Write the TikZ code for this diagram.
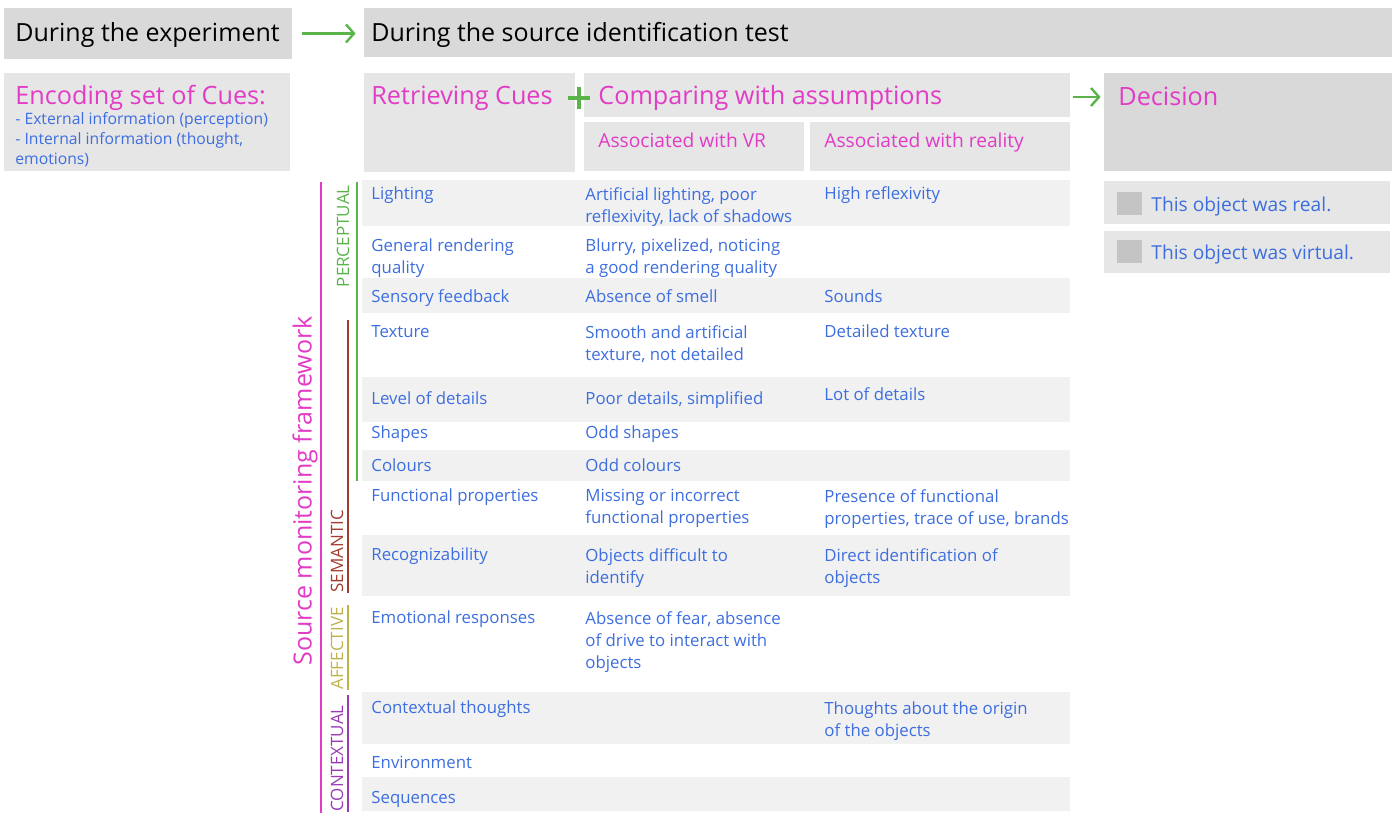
\documentclass[tikz,border=0pt]{standalone}
\usepackage{fontspec}
\setmainfont{Open Sans}
\usetikzlibrary{arrows.meta,positioning,calc,fit}

\definecolor{boxdark}{HTML}{D9D9D9}
\definecolor{boxlight}{HTML}{E6E6E6}
\definecolor{rowgrey}{HTML}{F1F1F1}
\definecolor{tickgrey}{HTML}{C4C4C4}
\definecolor{cuemagenta}{HTML}{E23BC6}
\definecolor{cueblue}{HTML}{3D6EE0}
\definecolor{flowgreen}{HTML}{5AB44A}
\definecolor{semred}{HTML}{A33A2C}
\definecolor{affolive}{HTML}{BDB24A}
\definecolor{ctxpurple}{HTML}{9A3BB3}

\tikzset{
    panel/.style={inner sep=0pt, fill=boxlight},
    head/.style={font=\fontsize{12.5}{14}\selectfont, anchor=base west, inner sep=0pt},
    title/.style={font=\fontsize{12.6}{14}\selectfont, text=cuemagenta, anchor=base west, inner sep=0pt},
    subtitle/.style={font=\fontsize{9.6}{11}\selectfont, text=cuemagenta, anchor=base west, inner sep=0pt},
    % cells hang from the top of their first line
    cell/.style={font=\fontsize{8.4}{11}\selectfont, text=cueblue, anchor=north west,
        inner sep=0pt, align=left, execute at begin node=\strut},
    wrap/.style={cell, yshift=-1.5pt},
    option/.style={font=\fontsize{9.6}{11}\selectfont, text=cueblue, anchor=base west, inner sep=0pt},
    group/.style={font=\fontsize{8.5}{9}\selectfont, rotate=90, inner sep=0pt},
    flow/.style={-{Straight Barb[length=4pt,width=9pt]}, flowgreen, line width=1.2pt},
}

\begin{document}
\begin{tikzpicture}[x=0.5pt, y=-0.5pt]
    \useasboundingbox (0,0) rectangle (1400,822);

    % Panels
    \node[panel, fill=boxdark, fit={(4,8) (292,59)}] (exp) {};
    \node[panel, fill=boxdark, fit={(364,8) (1392,57)}] (test) {};
    \node[panel, fit={(4,73) (290,171)}] (encode) {};
    \node[panel, fit={(364,73) (575,172)}] (retrieve) {};
    \node[panel, fit={(584,73) (1070,117)}] (compare) {};
    \node[panel, fit={(584,122) (804,171)}] (vr) {};
    \node[panel, fit={(810,122) (1070,171)}] (reality) {};
    \node[panel, fill=boxdark, fit={(1104,73) (1392,171)}] (decision) {};
    \node[panel, fit={(1104,181) (1390,224)}] (real) {};
    \node[panel, fit={(1104,231) (1390,273)}] (virtual) {};

    % Titles
    \node[head] (exp-t) at (15,42) {During the experiment};
    \node[head] (test-t) at (371,42) {During the source identification test};
    \node[title] (encode-t) at (15,105) {Encoding set of Cues:};
    \node[wrap, font=\fontsize{7.85}{10}\selectfont] (encode-l) at (15,109)
        {- External information (perception)\\- Internal information (thought,\\emotions)};
    \node[title] (retrieve-t) at (371,105) {Retrieving Cues};
    \node[title] (compare-t) at (598,105) {Comparing with assumptions};
    \node[subtitle] (vr-t) at (598,148) {Associated with VR};
    \node[subtitle] (reality-t) at (824,148) {Associated with reality};
    \node[title] (decision-t) at (1118,106) {Decision};

    % Decision options
    \fill[tickgrey] (1117,192) rectangle (1142,215);
    \fill[tickgrey] (1117,240) rectangle (1142,263);
    \node[option] (real-t) at (1151,212) {This object was real.};
    \node[option] (virtual-t) at (1151,260) {This object was virtual.};

    % Flow
    \draw[flow, shorten <=5pt, shorten >=4pt] (exp.east) -- (exp.east -| test.west);
    \draw[flow, shorten <=1.5pt, shorten >=1.5pt] (compare.east) ++(0,2) -- (decision.west |- 0,97);
    \coordinate (plus) at (579,98);
    \draw[flowgreen, line width=2pt] ($(plus)+(-11,0)$) -- ($(plus)+(11,0)$)
        ($(plus)+(0,-11)$) -- ($(plus)+(0,11)$);

    % Row stripes
    \foreach \ya/\yb in {180/226, 278/313, 377/422, 450/481, 535/596, 692/744, 777/811}
        \fill[rowgrey] (362,\ya) rectangle (1070,\yb);

    % Cues
    \node[cell] (light) at (371,184) {Lighting};
    \node[wrap] (light-vr) at (585,184) {Artificial lighting, poor\\reflexivity, lack of shadows};
    \node[cell] (light-re) at (824,184) {High reflexivity};

    \node[wrap] (render) at (371,235) {General rendering\\quality};
    \node[wrap] (render-vr) at (585,235) {Blurry, pixelized, noticing\\a good rendering quality};

    \node[cell] (sense) at (371,287) {Sensory feedback};
    \node[cell] (sense-vr) at (585,287) {Absence of smell};
    \node[cell] (sense-re) at (824,287) {Sounds};

    \node[cell] (texture) at (371,322) {Texture};
    \node[wrap] (texture-vr) at (585,322) {Smooth and artificial\\texture, not detailed};
    \node[cell] (texture-re) at (824,322) {Detailed texture};

    \node[cell] (detail) at (371,389) {Level of details};
    \node[cell] (detail-vr) at (585,389) {Poor details, simplified};
    \node[cell] (detail-re) at (824,385) {Lot of details};

    \node[cell] (shape) at (371,423) {Shapes};
    \node[cell] (shape-vr) at (585,423) {Odd shapes};

    \node[cell] (colour) at (371,456) {Colours};
    \node[cell] (colour-vr) at (585,456) {Odd colours};

    \node[cell] (func) at (371,486) {Functional properties};
    \node[wrap] (func-vr) at (585,486) {Missing or incorrect\\functional properties};
    \node[wrap] (func-re) at (824,486) {Presence of functional\\properties, trace of use, brands};

    \node[cell] (recog) at (371,545) {Recognizability};
    \node[wrap] (recog-vr) at (585,545) {Objects difficult to\\identify};
    \node[wrap] (recog-re) at (824,545) {Direct identification of\\objects};

    \node[cell] (emo) at (371,608) {Emotional responses};
    \node[wrap] (emo-vr) at (585,608) {Absence of fear, absence\\of drive to interact with\\objects};

    \node[cell] (context) at (371,698) {Contextual thoughts};
    \node[wrap] (context-re) at (824,698) {Thoughts about the origin\\of the objects};

    \node[cell] (env) at (371,753) {Environment};
    \node[cell] (seq) at (371,788) {Sequences};

    % Framework brackets
    \draw[cuemagenta, line width=1pt] (321,182) -- (321,813);
    \node[group, font=\fontsize{12.5}{14}\selectfont, text=cuemagenta] (frame) at (305,491) {Source monitoring framework};
    \draw[flowgreen, line width=1pt] (357,182) -- (357,481);
    \node[group, text=flowgreen, anchor=east] (percep) at (343,185) {PERCEPTUAL};
    \draw[semred, line width=1pt] (348,320) -- (348,593);
    \node[group, text=semred, anchor=west] (sem) at (337,593) {SEMANTIC};
    \draw[affolive, line width=1pt] (348,605) -- (348,690);
    \node[group, text=affolive, anchor=west] (aff) at (337,690) {AFFECTIVE};
    \draw[ctxpurple, line width=1pt] (348,695) -- (348,812);
    \node[group, text=ctxpurple, anchor=west] (ctx) at (337,812) {CONTEXTUAL};
\end{tikzpicture}
\end{document}
